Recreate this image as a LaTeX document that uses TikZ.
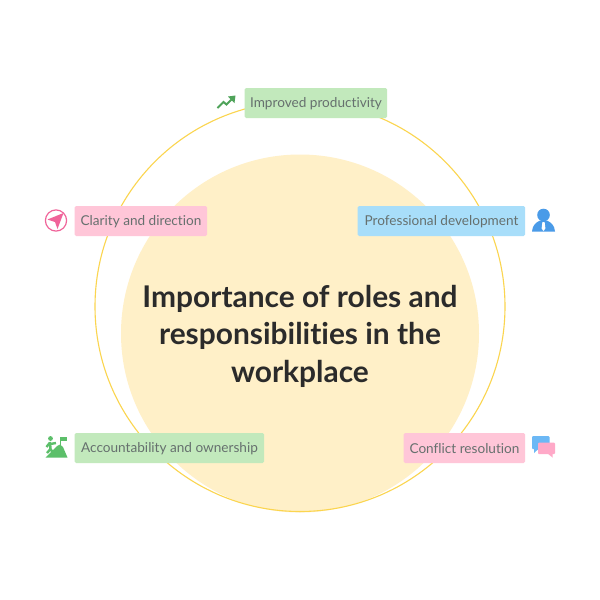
\documentclass[tikz,border=0pt]{standalone}
\usepackage{fontspec}
\setmainfont[Ligatures=NoCommon]{Lato}
\definecolor{disc}{HTML}{FFF0C8}
\definecolor{ringc}{HTML}{FBD54F}
\definecolor{lgreen}{HTML}{C2E9BC}
\definecolor{lpink}{HTML}{FFC6D8}
\definecolor{lblue}{HTML}{A8DEFA}
\definecolor{txt}{HTML}{66706E}
\definecolor{ttl}{HTML}{2B2B2B}
\definecolor{igreen}{HTML}{5CBF6A}
\definecolor{dgreen}{HTML}{4FA35A}
\definecolor{ipink}{HTML}{F0649A}
\definecolor{iblue}{HTML}{4A9BE8}
\definecolor{bubble}{HTML}{6CB8F5}
\definecolor{bubpink}{HTML}{FFA9C8}
\tikzset{
  tag/.style={fill=#1,rounded corners=1.5pt,inner sep=0pt,minimum height=30pt,anchor=center},
  tagtext/.style={text=txt,font=\fontsize{13.6}{16}\selectfont,inner sep=0pt,anchor=center},
}
\begin{document}
\begin{tikzpicture}[x=1pt,y=-1pt]
\useasboundingbox (0,0) rectangle (600,600);
\fill[white] (0,0) rectangle (600,600);
\node[circle,fill=disc,minimum size=358pt,inner sep=0pt] (core) at (300,333.5) {};
\node[circle,draw=ringc,line width=1.1pt,minimum size=410pt,inner sep=0pt] (ring) at (300,306.5) {};
\node[text=ttl,font=\bfseries\fontsize{29.9}{37.5}\selectfont,align=center] (title) at (300,336)
  {Importance of roles and\\responsibilities in the\\workplace};
\node[tag=lgreen,minimum width=142.5pt] (a) at (315.8,103) {};
\node[tag=lpink,minimum width=132.5pt] (b) at (140.8,221) {};
\node[tag=lblue,minimum width=167.5pt] (c) at (441.3,221) {};
\node[tag=lgreen,minimum width=189.5pt] (d) at (169.3,448) {};
\node[tag=lpink,minimum width=121.5pt] (e) at (464.3,448) {};
\node[tagtext] (at) at (316,103.5) {Improved productivity};
\node[tagtext] (bt) at (141,221.5) {Clarity and direction};
\node[tagtext] (ct) at (441.5,221.5) {Professional development};
\node[tagtext] (dt) at (169.5,448.5) {Accountability and ownership};
\node[tagtext] (et) at (464.5,448.5) {Conflict resolution};
% productivity icon
\draw[dgreen,line width=2pt,line join=miter] (217.5,108) -- (223.5,102) -- (226.5,104.5) -- (232,99);
\fill[dgreen] (228,96.5) -- (235.5,95.5) -- (234.5,103) -- cycle;
% compass icon
\draw[ipink,line width=1.2pt,fill=white] (56,220.5) circle[radius=10.6];
\fill[ipink] (63.5,213) -- (47.5,219.5) -- (55,222) -- (57.5,229) -- cycle;
% person icon
\fill[iblue] (543.5,215) circle[radius=6.3];
\fill[iblue] (532,231.5) .. controls (532.5,225) and (536,222.5) .. (540,220.5) -- (547,220.5) .. controls (551,222.5) and (554.5,225) .. (555,231.5) -- cycle;
\fill[white] (542.4,222) -- (544.6,222) -- (545.4,228.5) -- (543.5,231) -- (541.6,228.5) -- cycle;
% mountain icon
\fill[igreen] (45.5,457.5) -- (52,451) -- (57,446) -- (60,444.5) -- (63,447) -- (67.5,457.5) -- cycle;
\draw[igreen,line width=1pt] (60,446) -- (60,437);
\fill[igreen] (60,436.5) rectangle (66.5,441);
\fill[igreen] (50.5,438.5) circle[radius=2.4];
\draw[igreen,line width=2.4pt] (50,442) -- (50.5,449) (50,442.5) -- (46.5,447) (50.5,444) -- (56,443) (50.5,449) -- (53.5,453.5) (50.5,449) -- (47,453);
% bubbles
\fill[bubble,rounded corners=1pt] (532,436) rectangle (549.5,449);
\fill[bubble] (534,448) -- (534,453) -- (539.5,448) -- cycle;
\fill[bubpink,rounded corners=1pt] (538,442.5) rectangle (555,454);
\fill[bubpink] (547,453) -- (552.5,457.5) -- (552.5,453) -- cycle;
\end{tikzpicture}
\end{document}
